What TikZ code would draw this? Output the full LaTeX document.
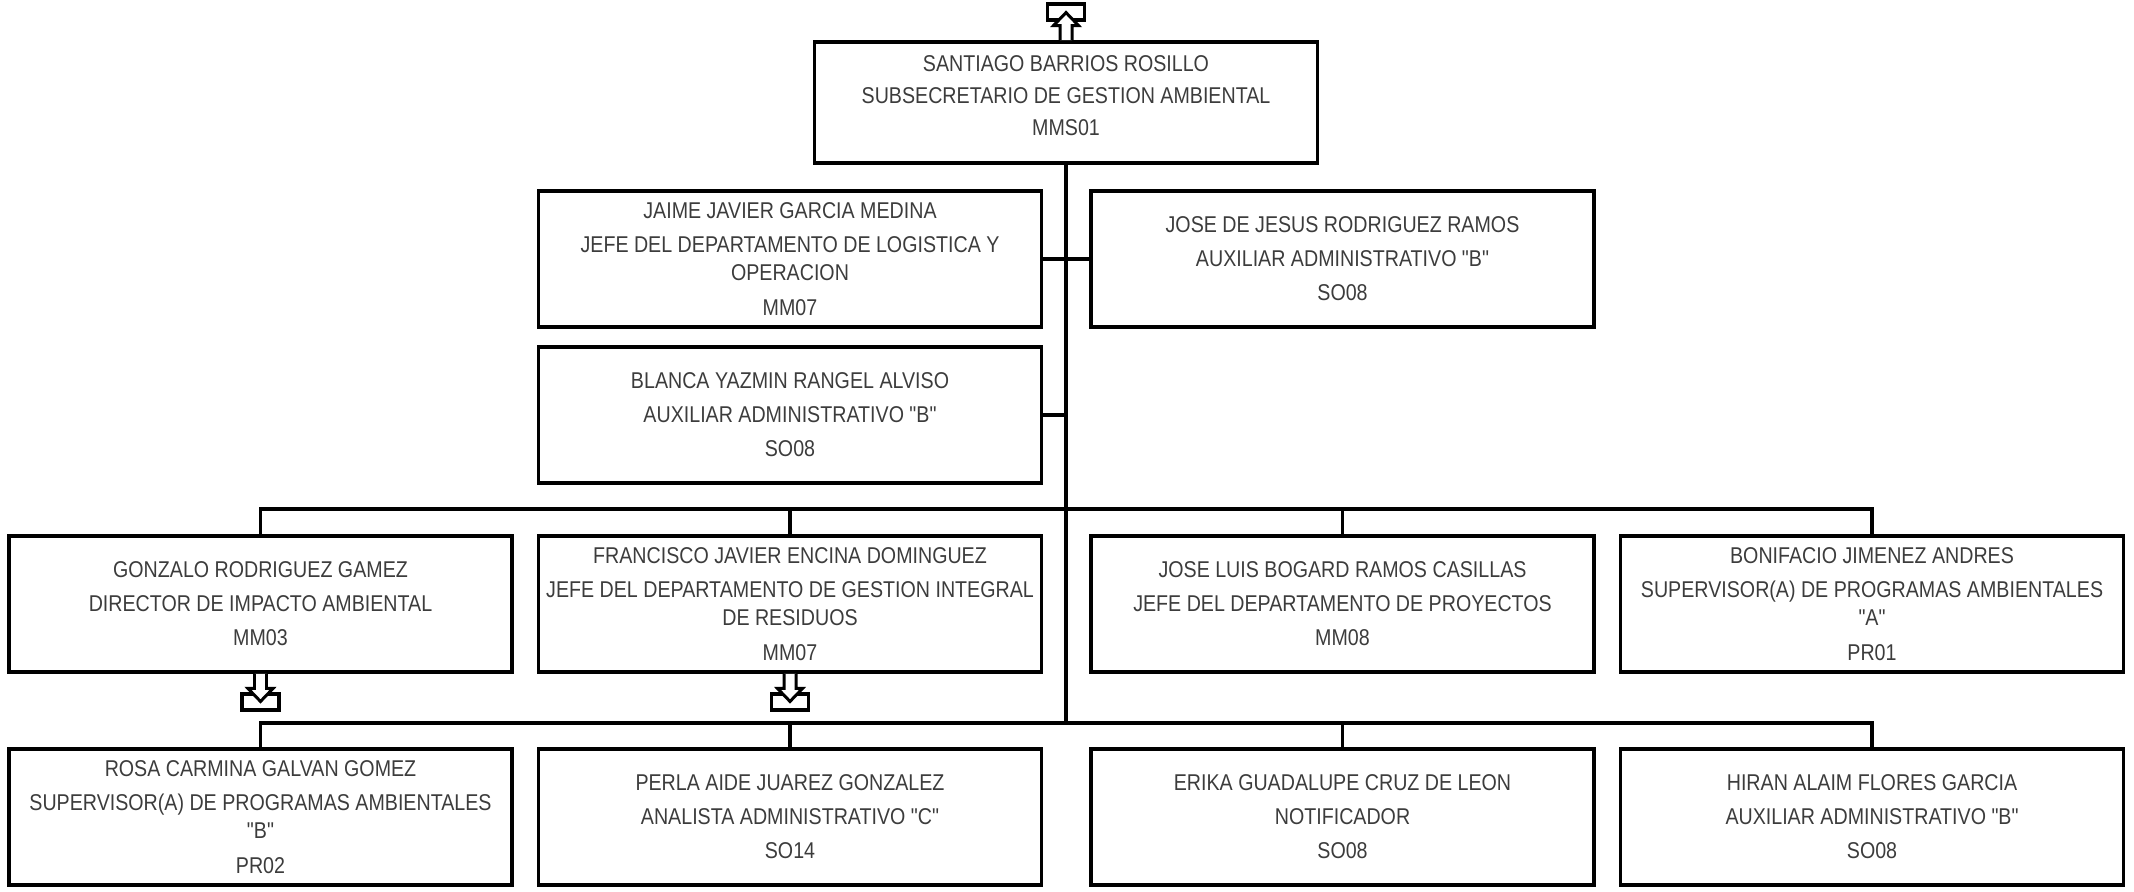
\documentclass[tikz,border=0pt]{standalone}
\usepackage{fontspec}
\newfontfamily\letrapuesto{Liberation Sans}[FakeStretch=0.86]
\usepackage{tikz}
\usetikzlibrary{
    calc,
    positioning
}
\definecolor{textopuesto}{RGB}{60,60,60}
\tikzset{
    every picture/.style = {
        line join = miter
    },
    puesto/.style = {
        draw,
        line width = 1.1pt,
        minimum width = 5.03cm,
        minimum height = 1.36cm,
        inner sep = 0pt,
        align = center,
        text = textopuesto,
        font = \letrapuesto\fontsize{6.5pt}{8pt}\selectfont
    },
    conector/.style = {
        line width = 0.9pt
    },
    enlace/.pic = {
        \draw[line width = 0.95pt] (-0.185, -0.20) rectangle (0.185, -0.36);
        \draw[line width = 0.85pt, fill = white]
            (-0.06, 0) -- (-0.06, -0.145) -- (-0.125, -0.145) -- (0, -0.275)
            -- (0.125, -0.145) -- (0.06, -0.145) -- (0.06, 0);
    }
}

\begin{document}
\begin{tikzpicture}
                \useasboundingbox (0, 0) rectangle (21.34, -8.91);
                \node[puesto, minimum height = 1.21cm, text depth = 0.14cm] (top) at (10.66, -1.025) {SANTIAGO BARRIOS ROSILLO\\[1pt] SUBSECRETARIO DE GESTION AMBIENTAL\\[1pt] MMS01};
                \node[puesto] (jaime) at (7.90, -2.59) {JAIME JAVIER GARCIA MEDINA\\[1.7pt] JEFE DEL DEPARTAMENTO DE LOGISTICA Y\\ OPERACION\\[1.7pt] MM07};
                \node[puesto] (jose) at (13.425, -2.59) {JOSE DE JESUS RODRIGUEZ RAMOS\\[1.7pt] AUXILIAR ADMINISTRATIVO "B"\\[1.7pt] SO08};
                \node[puesto] (blanca) at (7.90, -4.15) {BLANCA YAZMIN RANGEL ALVISO\\[1.7pt] AUXILIAR ADMINISTRATIVO "B"\\[1.7pt] SO08};
                \node[puesto] (gonzalo) at (2.605, -6.04) {GONZALO RODRIGUEZ GAMEZ\\[1.7pt] DIRECTOR DE IMPACTO AMBIENTAL\\[1.7pt] MM03};
                \node[puesto] (francisco) at (7.90, -6.04) {FRANCISCO JAVIER ENCINA DOMINGUEZ\\[1.7pt] JEFE DEL DEPARTAMENTO DE GESTION INTEGRAL\\ DE RESIDUOS\\[1.7pt] MM07};
                \node[puesto] (joseluis) at (13.425, -6.04) {JOSE LUIS BOGARD RAMOS CASILLAS\\[1.7pt] JEFE DEL DEPARTAMENTO DE PROYECTOS\\[1.7pt] MM08};
                \node[puesto] (bonifacio) at (18.72, -6.04) {BONIFACIO JIMENEZ ANDRES\\[1.7pt] SUPERVISOR(A) DE PROGRAMAS AMBIENTALES\\ "A"\\[1.7pt] PR01};
                \node[puesto] (rosa) at (2.605, -8.17) {ROSA CARMINA GALVAN GOMEZ\\[1.7pt] SUPERVISOR(A) DE PROGRAMAS AMBIENTALES\\ "B"\\[1.7pt] PR02};
                \node[puesto] (perla) at (7.90, -8.17) {PERLA AIDE JUAREZ GONZALEZ\\[1.7pt] ANALISTA ADMINISTRATIVO "C"\\[1.7pt] SO14};
                \node[puesto] (erika) at (13.425, -8.17) {ERIKA GUADALUPE CRUZ DE LEON\\[1.7pt] NOTIFICADOR\\[1.7pt] SO08};
                \node[puesto] (hiran) at (18.72, -8.17) {HIRAN ALAIM FLORES GARCIA\\[1.7pt] AUXILIAR ADMINISTRATIVO "B"\\[1.7pt] SO08};
                \coordinate (bus1) at (10.66, -5.09);
                \coordinate (bus2) at (10.66, -7.23);
                \draw[conector] (top.south) -- (bus2);
                \draw[conector] (jaime.east) -- (jose.west);
                \draw[conector] (blanca.east) -- (blanca.east -| top.south);
                \draw[conector] (gonzalo.north) |- (bus1) -| (bonifacio.north);
                \draw[conector] (francisco.north) -- (francisco.north |- bus1);
                \draw[conector] (joseluis.north) -- (joseluis.north |- bus1);
                \draw[conector] (rosa.north) |- (bus2) -| (hiran.north);
                \draw[conector] (perla.north) -- (perla.north |- bus2);
                \draw[conector] (erika.north) -- (erika.north |- bus2);
                \pic[rotate = 180] at (top.north) {enlace};
                \pic at (gonzalo.south) {enlace};
                \pic at (francisco.south) {enlace};
            \end{tikzpicture}
\end{document}
